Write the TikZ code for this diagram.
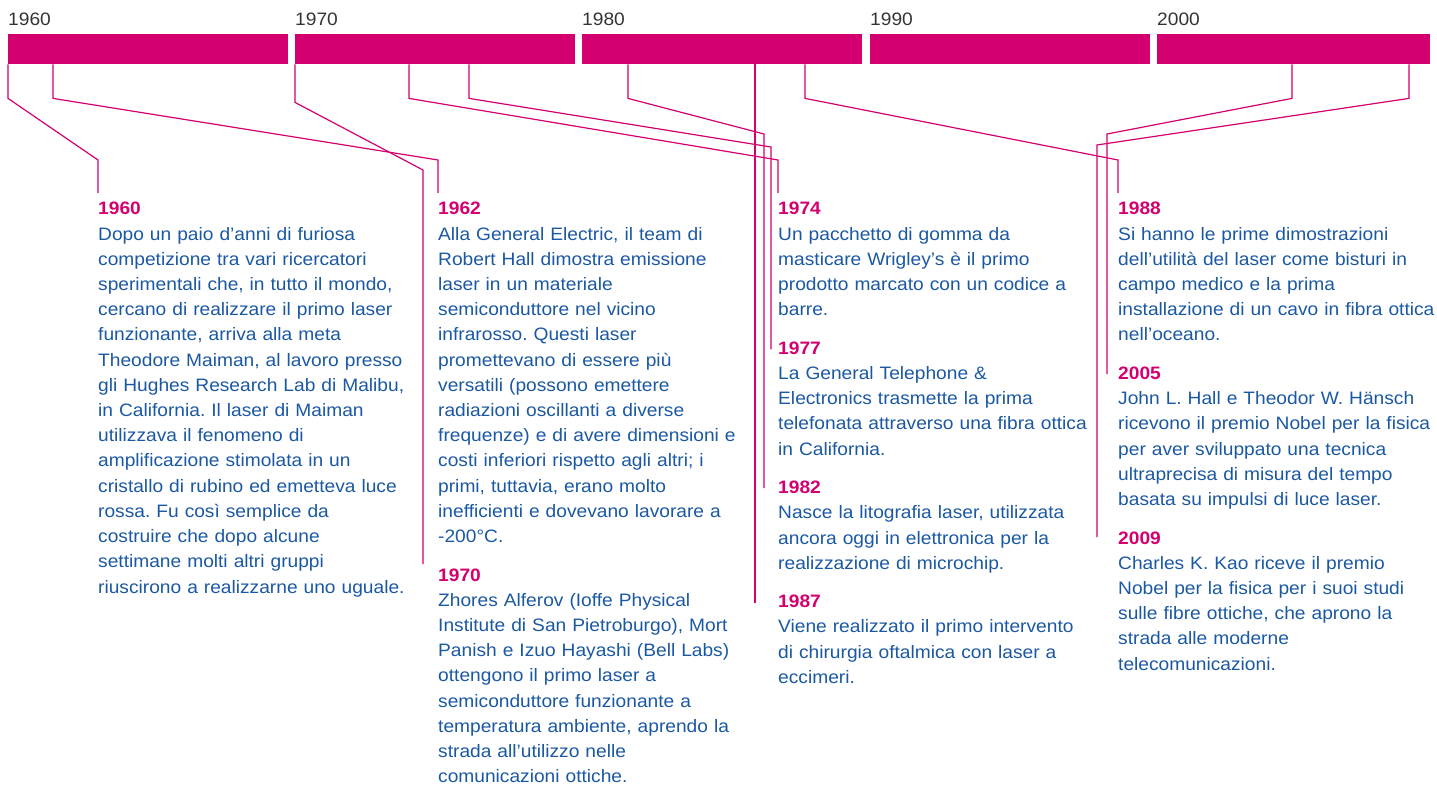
\documentclass[tikz,border=0pt]{standalone}
\usepackage{fontspec}
\setmainfont{Liberation Sans}[FakeStretch=1.065]
\usetikzlibrary{calc}
\definecolor{mag}{HTML}{D4006F}
\definecolor{txtblue}{HTML}{1B58A3}
\definecolor{yeargray}{HTML}{333333}
\newcommand\yr[1]{{\bfseries\color{mag}#1}}
\frenchspacing
\begin{document}
\begin{tikzpicture}[x=1pt,y=-1pt,
  bar/.style={fill=mag, draw=none, minimum width=280pt, minimum height=30pt, inner sep=0pt, anchor=north west},
  decade/.style={anchor=base west, inner sep=0pt, text=yeargray, font=\fontsize{18}{20}\selectfont},
  entry/.style={anchor=base west, inner sep=0pt, text=txtblue, text width=345pt, align=left, font=\fontsize{18}{25.2}\selectfont\frenchspacing},
  conn/.style={draw=mag, line width=1.2pt, line join=miter}]
\useasboundingbox (0,0) rectangle (1437,786);

% decade labels
\node[decade] (d60) at (8,26) {1960};
\node[decade] (d70) at (295,26) {1970};
\node[decade] (d80) at (582,26) {1980};
\node[decade] (d90) at (870,26) {1990};
\node[decade] (d00) at (1157,26) {2000};

% bars
\node[bar] (b60) at (8,34) {};
\node[bar] (b70) at (295,34) {};
\node[bar] (b80) at (582,34) {};
\node[bar] (b90) at (870,34) {};
\node[bar, minimum width=273pt] (b00) at (1157,34) {};

% entries
\node[entry] (s1960) at (98,215) {\yr{1960}\\
Dopo un paio d’anni di furiosa\\
competizione tra vari ricercatori\\
sperimentali che, in tutto il mondo,\\
cercano di realizzare il primo laser\\
funzionante, arriva alla meta\\
Theodore Maiman, al lavoro presso\\
gli Hughes Research Lab di Malibu,\\
in California. Il laser di Maiman\\
utilizzava il fenomeno di\\
amplificazione stimolata in un\\
cristallo di rubino ed emetteva luce\\
rossa. Fu così semplice da\\
costruire che dopo alcune\\
settimane molti altri gruppi\\
riuscirono a realizzarne uno uguale.};

\node[entry] (s1962) at (438,215) {\yr{1962}\\
Alla General Electric, il team di\\
Robert Hall dimostra emissione\\
laser in un materiale\\
semiconduttore nel vicino\\
infrarosso. Questi laser\\
promettevano di essere più\\
versatili (possono emettere\\
radiazioni oscillanti a diverse\\
frequenze) e di avere dimensioni e\\
costi inferiori rispetto agli altri; i\\
primi, tuttavia, erano molto\\
inefficienti e dovevano lavorare a\\
-200°C.};

\node[entry] (s1970) at (438,581.1) {\yr{1970}\\
Zhores Alferov (Ioffe Physical\\
Institute di San Pietroburgo), Mort\\
Panish e Izuo Hayashi (Bell Labs)\\
ottengono il primo laser a\\
semiconduttore funzionante a\\
temperatura ambiente, aprendo la\\
strada all’utilizzo nelle\\
comunicazioni ottiche.};

\node[entry] (s1974) at (778,215) {\yr{1974}\\
Un pacchetto di gomma da\\
masticare Wrigley’s è il primo\\
prodotto marcato con un codice a\\
barre.};

\node[entry] (s1977) at (778,354.3) {\yr{1977}\\
La General Telephone \&\\
Electronics trasmette la prima\\
telefonata attraverso una fibra ottica\\
in California.};

\node[entry] (s1982) at (778,493.6) {\yr{1982}\\
Nasce la litografia laser, utilizzata\\
ancora oggi in elettronica per la\\
realizzazione di microchip.};

\node[entry] (s1987) at (778,607.7) {\yr{1987}\\
Viene realizzato il primo intervento\\
di chirurgia oftalmica con laser a\\
eccimeri.};

\node[entry] (s1988) at (1118,215) {\yr{1988}\\
Si hanno le prime dimostrazioni\\
dell’utilità del laser come bisturi in\\
campo medico e la prima\\
installazione di un cavo in fibra ottica\\
nell’oceano.};

\node[entry] (s2005) at (1118,379.5) {\yr{2005}\\
John L. Hall e Theodor W. Hänsch\\
ricevono il premio Nobel per la fisica\\
per aver sviluppato una tecnica\\
ultraprecisa di misura del tempo\\
basata su impulsi di luce laser.};

\node[entry] (s2009) at (1118,544) {\yr{2009}\\
Charles K. Kao riceve il premio\\
Nobel per la fisica per i suoi studi\\
sulle fibre ottiche, che aprono la\\
strada alle moderne\\
telecomunicazioni.};

% connectors
\draw[conn] (b60.south west) -- ++(0,34) -- (98,160) -- ([yshift=22pt]s1960.base west);
\draw[conn] ([xshift=45pt]b60.south west) -- ++(0,34) -- (438,160) -- ([yshift=22pt]s1962.base west);
\draw[conn] (b70.south west) -- ++(0,38) -- (423,170) -- ([xshift=-15pt,yshift=17pt]s1970.base west);
\draw[conn] ([xshift=114pt]b70.south west) -- ++(0,34) -- (778,160) -- ([yshift=22pt]s1974.base west);
\draw[conn] ([xshift=174pt]b70.south west) -- ++(0,34) -- (771,147) -- ([xshift=-7pt,yshift=5pt]s1977.base west);
\draw[conn] ([xshift=46pt]b80.south west) -- ++(0,34) -- (764,134) -- ([xshift=-14pt,yshift=5.5pt]s1982.base west);
\draw[conn] ([xshift=173pt]b80.south west) -- ([xshift=-23pt,yshift=5pt]s1987.base west);
\draw[conn] ([xshift=223pt]b80.south west) -- ++(0,34) -- (1118,160) -- ([yshift=22pt]s1988.base west);
\draw[conn] ([xshift=135pt]b00.south west) -- ++(0,34) -- (1107,134) -- ([xshift=-11pt,yshift=5.5pt]s2005.base west);
\draw[conn] ([xshift=252pt]b00.south west) -- ++(0,34) -- (1097,145) -- ([xshift=-21pt,yshift=7pt]s2009.base west);
\end{tikzpicture}
\end{document}
